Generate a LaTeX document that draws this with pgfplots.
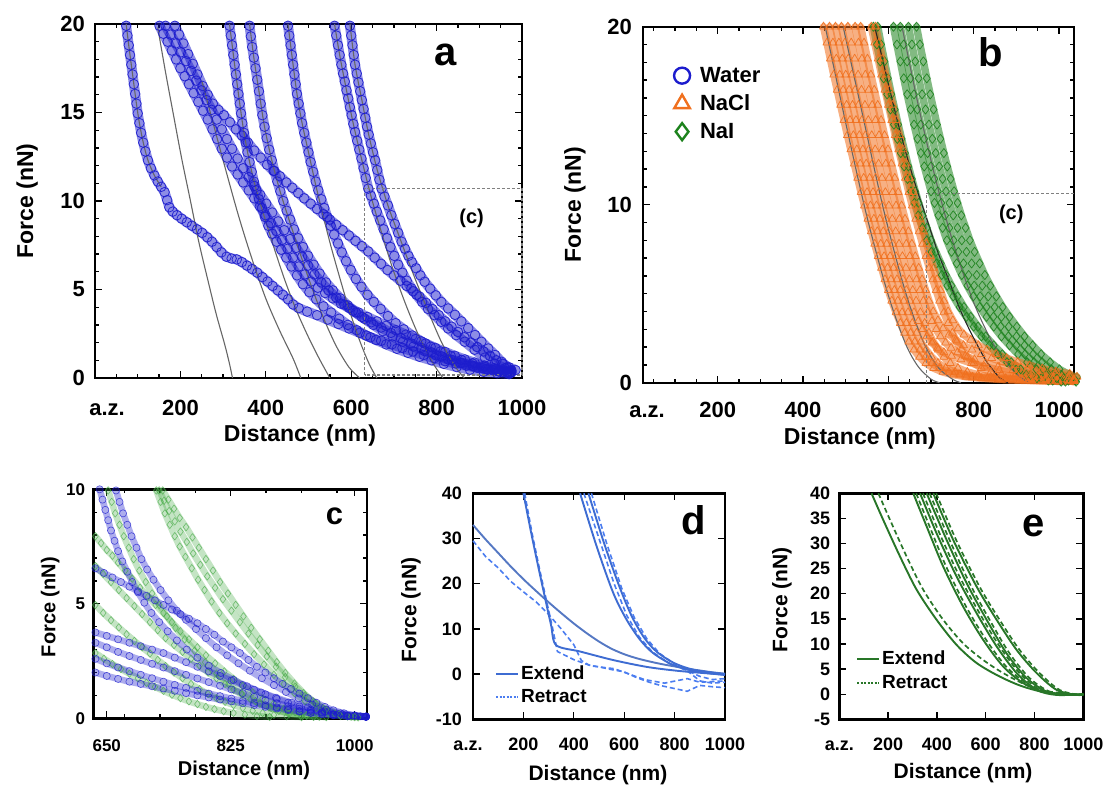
\documentclass[border=0pt]{standalone}
\usepackage{fontspec}
\setmainfont{Liberation Sans}
\usepackage{pgfplots}
\pgfplotsset{compat=1.18}
\definecolor{wblue}{RGB}{28,28,205}
\definecolor{naclc}{RGB}{240,112,30}
\definecolor{naic}{RGB}{28,130,28}
\definecolor{cgreen}{RGB}{70,170,70}
\definecolor{dsol}{RGB}{62,108,210}
\definecolor{dsteel}{RGB}{85,120,195}
\definecolor{dret}{RGB}{75,125,240}
\definecolor{egr}{RGB}{40,118,40}
\newcommand\fA{\fontsize{22bp}{26bp}\selectfont\bfseries}
\newcommand\fAl{\fontsize{23bp}{27bp}\selectfont\bfseries}
\newcommand\fC{\fontsize{17bp}{20bp}\selectfont\bfseries}
\newcommand\fCl{\fontsize{20bp}{24bp}\selectfont\bfseries}
\newcommand\fD{\fontsize{18bp}{21bp}\selectfont\bfseries}
\newcommand\fDl{\fontsize{21bp}{25bp}\selectfont\bfseries}
\newcommand\fLg{\fontsize{19bp}{22bp}\selectfont\bfseries}
\newcommand\fP{\fontsize{20bp}{24bp}\selectfont\bfseries}
\newcommand\fL{\fontsize{40bp}{44bp}\selectfont\bfseries}
\newcommand\fLc{\fontsize{31bp}{34bp}\selectfont\bfseries}
\pgfplotsset{
 panel/.style={scale only axis, clip=false, axis line style={line width=2.4bp},
   tick style={line width=1.3bp, black}, major tick length=7bp, minor tick length=4bp, tick align=inside},
 wband/.style={forget plot, draw=wblue, line width=10bp, draw opacity=0.5, line join=round, line cap=round,
   mark=o, mark size=4.8bp, mark options={draw=wblue, line width=0.8bp, draw opacity=0.9, fill=none, solid}},
 oband/.style={forget plot, draw=naclc, line width=7.5bp, draw opacity=0.55, line join=round, line cap=round,
   mark=triangle, mark size=4.6bp, mark options={draw=naclc, line width=0.75bp, draw opacity=0.9, fill=none, solid}},
 gband/.style={forget plot, draw=naic, line width=7.5bp, draw opacity=0.55, line join=round, line cap=round,
   mark=diamond, mark size=4.6bp, mark options={draw=naic, line width=0.75bp, draw opacity=0.9, fill=none, solid}},
 cwband/.style={forget plot, draw=wblue, line width=6.5bp, draw opacity=0.36, line join=round, line cap=round,
   mark=o, mark size=3.6bp, mark options={draw=wblue, line width=0.6bp, draw opacity=0.75, fill=none, solid}},
 cgband/.style={forget plot, draw=cgreen, line width=6.5bp, draw opacity=0.32, line join=round, line cap=round,
   mark=diamond, mark size=3.8bp, mark options={draw=cgreen, line width=0.6bp, draw opacity=0.7, fill=none, solid}},
 fitl/.style={forget plot, draw=black!60, line width=1.1bp, no marks, smooth},
 dsolid/.style={forget plot, draw=dsol, line width=1.9bp, no marks, smooth},
 ddash/.style={forget plot, draw=dret, line width=1.6bp, no marks, dash pattern=on 5bp off 3bp},
 esolid/.style={forget plot, draw=egr, line width=1.9bp, no marks, smooth},
 edash/.style={forget plot, draw=egr, line width=1.7bp, no marks, smooth, dash pattern=on 5bp off 3bp},
}
\begin{document}
\begin{tikzpicture}
\path[use as bounding box] (0bp,0bp) rectangle (1116bp,-787bp);
%================ a =================
\begin{axis}[panel, at={(95bp,-378bp)}, anchor=south west, width=427bp, height=354bp,
 xmin=0, xmax=1000, ymin=0, ymax=20,
 xtick={0,200,400,600,800,1000}, xticklabels={\hspace*{24bp}a.z.,200,400,600,800,1000},
 minor x tick num=3, ytick={0,5,10,15,20}, yticklabels={0,5,10,15,20}, minor y tick num=4,
 xticklabel style={font=\fA, anchor=base, yshift=-37bp, inner sep=0pt},
 yticklabel style={font=\fA, anchor=east, xshift=-10bp, inner sep=0pt},
 xlabel={Distance (nm)}, ylabel={Force (nN)},
 xlabel style={font=\fAl, at={(axis description cs:0.48,-0.163)}, anchor=center},
 ylabel style={font=\fAl, at={(axis description cs:-0.159,0.5)}, anchor=center}]
\addplot[wband] coordinates {(73,19.9) (76,19.35) (79,18.8) (82,18.25) (85,17.7) (88,17.15) (91,16.6) (94,16.05) (97,15.5) (100,14.95) (104,14.4) (108,13.85) (113,13.3) (118,12.8) (124,12.3) (131,11.85) (139,11.45) (147,11.1) (155,10.8) (163,10.5) (169,10.05) (174,9.65) (182,9.4) (192,9.2) (203,9.0) (215,8.8) (227,8.6) (239,8.4) (251,8.2) (263,7.95) (274,7.7) (285,7.4) (296,7.1) (308,6.85) (320,6.75) (332,6.7) (344,6.55) (356,6.35) (368,6.15) (380,5.95) (392,5.7) (404,5.45) (416,5.2) (428,4.95) (440,4.7) (452,4.45) (464,4.15) (477,3.95) (497,3.75) (520,3.55) (545,3.3) (570,3.05) (595,2.8) (620,2.55) (645,2.3) (670,2.1) (695,1.9) (720,1.7) (745,1.5) (770,1.3) (795,1.12) (820,0.95) (845,0.82) (870,0.7) (895,0.58) (920,0.47) (945,0.38) (965,0.32)};
\addplot[wband] coordinates {(151,19.9) (160,19.45) (170,19.0) (180,18.5) (190,18.0) (200,17.5) (210,17.05) (220,16.6) (231,16.1) (242,15.6) (253,15.1) (264,14.6) (275,14.05) (286,13.5) (297,12.95) (309,12.45) (321,11.95) (334,11.5) (347,11.05) (360,10.6) (373,10.15) (386,9.7) (399,9.2) (412,8.75) (425,8.3) (438,7.8) (451,7.3) (464,6.8) (477,6.3) (491,5.85) (506,5.45) (522,5.1) (539,4.8) (557,4.5) (576,4.2) (596,3.95) (617,3.7) (638,3.45) (660,3.2) (682,2.95) (705,2.7) (728,2.45) (751,2.2) (774,1.95) (797,1.7) (820,1.47) (843,1.25) (866,1.05) (889,0.87) (912,0.7) (935,0.55) (958,0.42) (975,0.35)};
\addplot[wband] coordinates {(165,19.9) (177,19.4) (189,18.9) (201,18.4) (213,17.9) (225,17.35) (237,16.8) (249,16.25) (261,15.7) (273,15.15) (285,14.6) (297,14.05) (309,13.5) (321,12.95) (334,12.4) (347,11.85) (360,11.35) (373,10.85) (387,10.35) (401,9.85) (415,9.35) (429,8.85) (443,8.35) (457,7.85) (471,7.35) (485,6.85) (499,6.35) (514,5.85) (530,5.4) (547,4.95) (565,4.55) (584,4.15) (604,3.8) (625,3.45) (647,3.15) (670,2.85) (693,2.55) (716,2.25) (740,1.95) (764,1.7) (788,1.45) (812,1.22) (836,1.02) (860,0.85) (884,0.7) (908,0.56) (932,0.45) (956,0.36) (975,0.3)};
\addplot[wband] coordinates {(187,19.9) (197,19.4) (207,18.9) (218,18.3) (229,17.75) (240,17.15) (252,16.5) (264,16.0) (276,15.5) (289,15.15) (302,14.85) (316,14.45) (330,14.05) (344,13.7) (358,13.3) (373,12.85) (388,12.45) (403,12.05) (418,11.7) (433,11.4) (448,11.05) (462,10.75) (476,10.45) (490,10.15) (505,9.85) (520,9.55) (535,9.25) (550,8.95) (565,8.65) (580,8.35) (595,8.05) (610,7.75) (625,7.45) (640,7.15) (655,6.8) (670,6.45) (685,6.1) (700,5.8) (715,5.5) (730,5.2) (745,4.9) (760,4.6) (775,4.25) (790,3.9) (805,3.55) (820,3.2) (835,2.9) (850,2.6) (865,2.3) (880,2.0) (895,1.75) (910,1.5) (925,1.25) (940,1.0) (955,0.8) (970,0.6) (985,0.45)};
\addplot[wband] coordinates {(315,19.9) (318,19.35) (321,18.8) (324,18.25) (327,17.7) (330,17.15) (333,16.6) (336,16.05) (339,15.5) (342,14.95) (345,14.4) (349,13.85) (353,13.3) (357,12.75) (362,12.2) (367,11.65) (372,11.1) (378,10.6) (384,10.1) (391,9.6) (398,9.1) (406,8.6) (415,8.15) (425,7.7) (436,7.25) (448,6.8) (460,6.3) (473,5.8) (487,5.3) (502,4.85) (518,4.45) (535,4.05) (553,3.7) (572,3.35) (592,3.0) (613,2.7) (635,2.4) (658,2.15) (682,1.9) (707,1.65) (733,1.42) (760,1.2) (788,1.0) (817,0.8) (847,0.62) (878,0.47) (910,0.35) (942,0.27) (970,0.22)};
\addplot[wband] coordinates {(362,19.9) (365,19.3) (368,18.7) (372,18.1) (376,17.5) (380,16.85) (384,16.2) (388,15.5) (392,14.85) (397,14.2) (402,13.55) (408,12.9) (414,12.3) (420,11.7) (427,11.1) (434,10.55) (441,10.0) (449,9.45) (457,8.95) (466,8.4) (476,7.9) (487,7.4) (499,6.9) (512,6.4) (526,5.9) (541,5.4) (557,4.95) (574,4.5) (592,4.1) (611,3.7) (631,3.35) (652,3.0) (674,2.65) (697,2.35) (721,2.05) (746,1.78) (772,1.52) (799,1.28) (827,1.05) (856,0.85) (886,0.66) (916,0.5) (946,0.37) (972,0.28)};
\addplot[wband] coordinates {(452,19.9) (455,19.35) (458,18.8) (461,18.25) (464,17.7) (467,17.15) (470,16.6) (473,16.05) (477,15.5) (481,14.95) (485,14.4) (490,13.85) (495,13.3) (500,12.75) (505,12.2) (511,11.65) (517,11.1) (523,10.6) (530,10.1) (537,9.6) (544,9.1) (552,8.6) (560,8.1) (569,7.6) (578,7.1) (588,6.6) (599,6.1) (611,5.6) (624,5.15) (638,4.7) (653,4.3) (669,3.9) (686,3.5) (704,3.1) (723,2.75) (743,2.4) (764,2.07) (786,1.77) (809,1.5) (833,1.25) (858,1.02) (884,0.82) (911,0.64) (938,0.48) (965,0.35)};
\addplot[wband] coordinates {(561,19.9) (565,19.35) (569,18.8) (573,18.25) (577,17.7) (581,17.2) (585,16.75) (589,16.25) (593,15.8) (597,15.3) (601,14.85) (605,14.35) (609,13.9) (614,13.4) (619,12.9) (624,12.4) (629,11.85) (634,11.3) (640,10.7) (646,10.3) (653,9.85) (660,9.4) (668,8.9) (676,8.4) (684,7.9) (692,7.4) (701,6.9) (710,6.4) (720,5.95) (730,5.5) (741,5.07) (753,4.7) (766,4.3) (780,3.9) (795,3.55) (811,3.17) (827,2.8) (846,2.42) (866,2.05) (889,1.6) (913,1.15) (936,0.8) (960,0.55) (975,0.45)};
\addplot[wband] coordinates {(597,19.9) (600,19.35) (603,18.8) (606,18.25) (609,17.7) (613,17.2) (617,16.7) (621,16.2) (625,15.7) (629,15.2) (633,14.7) (637,14.2) (641,13.75) (646,13.25) (651,12.75) (656,12.3) (661,11.75) (666,11.2) (671,10.7) (678,10.25) (686,9.75) (694,9.2) (702,8.7) (710,8.2) (718,7.7) (726,7.3) (734,6.9) (742,6.55) (752,6.2) (762,5.8) (772,5.44) (785,5.05) (798,4.67) (811,4.3) (827,3.93) (843,3.57) (858,3.2) (874,2.82) (890,2.43) (905,2.05) (921,1.67) (937,1.3) (952,0.92) (965,0.6) (975,0.4)};
\addplot[fitl] coordinates {(73,20) (79,18.8) (85,17.7) (91,16.6) (97,15.5) (104,14.4) (113,13.3) (124,12.3) (139,11.45) (155,10.8)};
\addplot[fitl] coordinates {(147,19.8) (165,17.3) (183.5,14.9) (203,12.4) (223.6,10.0) (243,7.7) (263.6,5.6) (284,3.6) (303.7,1.9) (315,0.8) (322,0)};
\addplot[fitl] coordinates {(250,16.8) (270,15.0) (300,12.3) (335.7,9.2) (368,6.7) (399.8,4.5) (432,2.7) (463.9,1.1) (482,0)};
\addplot[fitl] coordinates {(315,20) (327,17.7) (339,15.5) (349,13.85) (362,12.2) (378,10.6) (398,9.0) (420,7.3) (445,5.5) (472,3.8) (500,2.3) (525,1.1) (550,0)};
\addplot[fitl] coordinates {(362,20) (372,18.1) (384,16.2) (397,14.2) (414,12.3) (434,10.5) (455,8.9) (478,7.2) (505,5.3) (535,3.4) (565,1.8) (595,0.6) (620,0)};
\addplot[fitl] coordinates {(452,20) (461,18.25) (473,16.05) (485,14.4) (500,12.75) (516,11.0) (534,9.2) (553,7.4) (574,5.6) (596,3.8) (620,2.1) (642,0.8) (660,0)};
\addplot[fitl] coordinates {(561,20) (573,18.25) (589,16.25) (605,14.35) (624,12.4) (646,10.3) (670,8.3) (697,6.2) (727,4.2) (758,2.4) (790,0.9) (815,0)};
\addplot[fitl] coordinates {(597,20) (609,17.7) (625,15.7) (641,13.75) (661,11.75) (686,9.75) (714,7.9) (745,5.9) (778,3.9) (812,2.0) (845,0.6) (865,0)};
\draw[densely dashed, black!50, line width=1.2bp] (axis cs:632,0.17) rectangle (axis cs:1000,10.72);
\node[font=\fP] at (axis cs:882,9.04) {(c)};
\node[font=\fL] at (axis cs:822,18.25) {a};
\end{axis}
%================ b =================
\begin{axis}[panel, at={(643bp,-382.7bp)}, anchor=south west, width=431bp, height=356bp,
 xmin=25, xmax=1035, ymin=0, ymax=20,
 xtick={25,200,400,600,800,1000}, xticklabels={\hspace*{8bp}a.z.,200,400,600,800,1000},
 minor xtick={50,100,...,1000}, ytick={0,10,20}, yticklabels={0,10,20}, minor y tick num=9,
 xticklabel style={font=\fA, anchor=base, yshift=-35bp, inner sep=0pt},
 yticklabel style={font=\fA, anchor=east, xshift=-11bp, inner sep=0pt},
 xlabel={Distance (nm)}, ylabel={Force (nN)},
 xlabel style={font=\fAl, at={(axis description cs:0.503,-0.158)}, anchor=center},
 ylabel style={font=\fAl, at={(axis description cs:-0.158,0.5)}, anchor=center},
 legend image code/.code={\draw[#1] plot coordinates {(10bp,0bp)}; \path[draw=none,fill=none] (0bp,0bp) -- (26bp,0bp);},
 legend style={at={(axis description cs:0.067,0.892)}, anchor=north west, draw=none, fill=none, font=\fA, row sep=7bp, inner sep=0pt},
 legend cell align=left]
\addlegendimage{mark=o, draw=wblue, mark size=8bp, line width=2.4bp}
\addlegendentry{Water}
\addlegendimage{mark=triangle, draw=naclc, mark size=9bp, line width=2.4bp}
\addlegendentry{NaCl}
\addlegendimage{mark=diamond, draw=naic, mark size=8.5bp, line width=2.4bp}
\addlegendentry{NaI}
\addplot[gband] coordinates {(565,20) (573,19.0) (581,18.05) (589,17.1) (597,16.2) (605,15.35) (613,14.5) (621,13.7) (629,12.9) (637,12.15) (645,11.45) (653,10.75) (661,10.1) (670,9.4) (680,8.7) (690,8.0) (701,7.35) (713,6.7) (725,6.05) (738,5.45) (752,4.85) (767,4.25) (783,3.7) (800,3.15) (818,2.6) (837,2.1) (857,1.6) (878,1.15) (900,0.75) (923,0.45) (948,0.25) (975,0.12) (1005,0.06)};
\addplot[gband] coordinates {(575,20) (583,19.0) (591,18.05) (599,17.1) (607,16.2) (615,15.35) (623,14.5) (631,13.7) (639,12.9) (647,12.15) (655,11.45) (663,10.75) (671,10.1) (680,9.4) (690,8.7) (700,8.0) (711,7.35) (723,6.7) (735,6.05) (748,5.45) (762,4.85) (777,4.25) (793,3.7) (810,3.15) (828,2.6) (847,2.1) (867,1.6) (888,1.15) (910,0.75) (933,0.45) (958,0.25) (985,0.12) (1015,0.06)};
\addplot[gband] coordinates {(612,20) (620,19.0) (628,18.05) (636,17.1) (644,16.2) (652,15.35) (660,14.5) (668,13.7) (676,12.9) (684,12.15) (692,11.45) (700,10.75) (708,10.1) (717,9.4) (727,8.7) (737,8.0) (748,7.35) (760,6.7) (772,6.05) (785,5.45) (799,4.85) (814,4.25) (830,3.7) (847,3.15) (865,2.6) (884,2.1) (904,1.6) (925,1.15) (947,0.75) (970,0.45) (995,0.25) (1022,0.12) (1040,0.06)};
\addplot[gband] coordinates {(628,20) (636,19.0) (644,18.05) (652,17.1) (660,16.2) (668,15.35) (676,14.5) (684,13.7) (692,12.9) (700,12.15) (708,11.45) (716,10.75) (724,10.1) (733,9.4) (743,8.7) (753,8.0) (764,7.35) (776,6.7) (788,6.05) (801,5.45) (815,4.85) (830,4.25) (846,3.7) (863,3.15) (881,2.6) (900,2.1) (920,1.6) (941,1.15) (963,0.75) (986,0.45) (1011,0.25) (1038,0.12)};
\addplot[gband] coordinates {(647,20) (655,19.0) (663,18.05) (671,17.1) (679,16.2) (687,15.35) (695,14.5) (703,13.7) (711,12.9) (719,12.15) (727,11.45) (735,10.75) (743,10.1) (752,9.4) (762,8.7) (772,8.0) (783,7.35) (795,6.7) (807,6.05) (820,5.45) (834,4.85) (849,4.25) (865,3.7) (882,3.15) (900,2.6) (919,2.1) (939,1.6) (960,1.15) (982,0.75) (1005,0.45) (1030,0.25)};
\addplot[gband] coordinates {(666,20) (674,19.0) (682,18.05) (690,17.1) (698,16.2) (706,15.35) (714,14.5) (722,13.7) (730,12.9) (738,12.15) (746,11.45) (754,10.75) (762,10.1) (771,9.4) (781,8.7) (791,8.0) (802,7.35) (814,6.7) (826,6.05) (839,5.45) (853,4.85) (868,4.25) (884,3.7) (901,3.15) (919,2.6) (938,2.1) (958,1.6) (979,1.15) (1001,0.75) (1024,0.45) (1042,0.3)};
\addplot[oband] coordinates {(448,20) (456,19.1) (464,18.2) (472,17.3) (480,16.45) (488,15.6) (496,14.75) (504,13.9) (512,13.1) (520,12.3) (528,11.5) (536,10.7) (544,9.95) (552,9.2) (560,8.5) (568,7.8) (576,7.1) (584,6.45) (592,5.8) (600,5.2) (608,4.6) (618,3.95) (628,3.35) (638,2.8) (648,2.3) (660,1.85) (673,1.45) (688,1.1) (706,0.82) (728,0.6) (753,0.45) (783,0.33) (818,0.25) (858,0.19) (908,0.14) (968,0.1) (1035,0.08)};
\addplot[oband] coordinates {(462,20) (470,19.1) (478,18.2) (486,17.3) (494,16.45) (502,15.6) (510,14.75) (518,13.9) (526,13.1) (534,12.3) (542,11.5) (550,10.7) (558,9.95) (566,9.2) (574,8.5) (582,7.8) (590,7.1) (598,6.45) (606,5.8) (614,5.2) (622,4.6) (632,3.95) (642,3.35) (652,2.8) (662,2.3) (674,1.85) (687,1.45) (702,1.1) (720,0.82) (742,0.6) (767,0.45) (797,0.33) (832,0.25) (872,0.19) (922,0.14) (982,0.1) (1035,0.08)};
\addplot[oband] coordinates {(476,20) (484,19.1) (492,18.2) (500,17.3) (508,16.45) (516,15.6) (524,14.75) (532,13.9) (540,13.1) (548,12.3) (556,11.5) (564,10.7) (572,9.95) (580,9.2) (588,8.5) (596,7.8) (604,7.1) (612,6.45) (620,5.8) (628,5.2) (636,4.6) (646,3.95) (656,3.35) (666,2.8) (676,2.3) (688,1.85) (701,1.45) (716,1.1) (734,0.82) (756,0.6) (781,0.45) (811,0.33) (846,0.25) (886,0.19) (936,0.14) (996,0.1) (1035,0.08)};
\addplot[oband] coordinates {(490,20) (498,19.1) (506,18.2) (514,17.3) (522,16.45) (530,15.6) (538,14.75) (546,13.9) (554,13.1) (562,12.3) (570,11.5) (578,10.7) (586,9.95) (594,9.2) (602,8.5) (610,7.8) (618,7.1) (626,6.45) (634,5.8) (642,5.2) (650,4.6) (660,3.95) (670,3.45) (680,3.0) (690,2.6) (702,2.25) (715,1.95) (730,1.7) (748,1.5) (770,1.3) (795,1.1) (825,0.9) (860,0.7) (900,0.5) (950,0.32) (1010,0.18) (1035,0.14)};
\addplot[oband] coordinates {(505,20) (513,19.1) (521,18.2) (529,17.3) (537,16.45) (545,15.6) (553,14.75) (561,13.9) (569,13.1) (577,12.3) (585,11.5) (593,10.7) (601,9.95) (609,9.2) (617,8.5) (625,7.8) (633,7.1) (641,6.45) (649,5.8) (657,5.2) (665,4.6) (675,3.95) (685,3.35) (695,2.8) (705,2.3) (717,1.85) (730,1.45) (745,1.1) (763,0.82) (785,0.6) (810,0.45) (840,0.33) (875,0.25) (915,0.19) (965,0.14) (1025,0.1)};
\addplot[oband] coordinates {(522,20) (530,19.1) (538,18.2) (546,17.3) (554,16.45) (562,15.6) (570,14.75) (578,13.9) (586,13.1) (594,12.3) (602,11.5) (610,10.7) (618,9.95) (626,9.2) (634,8.5) (642,7.8) (650,7.1) (658,6.45) (666,5.8) (674,5.2) (682,4.6) (692,3.95) (702,3.45) (712,3.0) (722,2.6) (734,2.25) (747,1.95) (762,1.7) (780,1.5) (802,1.3) (827,1.1) (857,0.9) (892,0.7) (932,0.5) (982,0.32) (1035,0.2)};
\addplot[oband] coordinates {(535,20) (543,19.1) (551,18.2) (559,17.3) (567,16.45) (575,15.6) (583,14.75) (591,13.9) (599,13.1) (607,12.3) (615,11.5) (623,10.7) (631,9.95) (639,9.2) (647,8.5) (655,7.8) (663,7.1) (671,6.45) (679,5.8) (687,5.2) (695,4.6) (705,4.0) (716,3.5) (728,3.05) (742,2.7) (758,2.4) (776,2.1) (796,1.85) (818,1.6) (842,1.38) (868,1.17) (896,0.97) (926,0.79) (958,0.63) (992,0.49) (1025,0.38) (1042,0.33)};
\addplot[oband] coordinates {(560,20) (568,19.1) (576,18.2) (584,17.3) (592,16.45) (600,15.6) (608,14.75) (616,13.9) (624,13.1) (632,12.3) (640,11.5) (648,10.7) (656,9.95) (664,9.2) (672,8.5) (680,7.8) (688,7.1) (696,6.45) (704,5.8) (712,5.2) (720,4.6) (730,3.95) (740,3.35) (750,2.8) (760,2.3) (772,1.85) (785,1.45) (800,1.1) (818,0.82) (840,0.6) (865,0.45) (895,0.33) (930,0.25) (970,0.19) (1020,0.14) (1035,0.12)};
\addplot[oband] coordinates {(570,20) (578,19.1) (586,18.2) (594,17.3) (602,16.45) (610,15.6) (618,14.75) (626,13.9) (634,13.1) (642,12.3) (650,11.5) (658,10.7) (666,9.95) (674,9.2) (682,8.5) (690,7.8) (698,7.1) (706,6.45) (714,5.8) (722,5.2) (730,4.6) (740,4.0) (751,3.5) (763,3.05) (777,2.7) (793,2.4) (811,2.1) (831,1.85) (853,1.6) (877,1.38) (903,1.17) (931,0.97) (961,0.79) (993,0.63) (1025,0.5)};
\addplot[fitl] coordinates {(452,20) (500,14.6) (550,9.3) (600,4.9) (640,2.2) (670,0.9) (700,0.2) (720,0)};
\addplot[fitl] coordinates {(494,20) (540,15.0) (590,9.6) (640,5.1) (680,2.4) (715,0.9) (750,0.2) (770,0)};
\addplot[fitl, draw=black!85] coordinates {(568,20) (590,17.8) (615,15.3) (640,13.0) (665,11.0) (690,9.2) (715,7.4) (741,5.8) (770,4.0) (800,2.5) (830,1.2) (860,0.3) (880,0)};
\addplot[fitl] coordinates {(632,20) (670,15.6) (710,11.5) (750,8.0) (800,4.5) (850,2.0) (900,0.5) (930,0)};
\draw[densely dashed, black!50, line width=1.2bp] (axis cs:690,0) -- (axis cs:690,10.64) -- (axis cs:1035,10.64);
\node[font=\fP] at (axis cs:888,9.48) {(c)};
\node[font=\fL] at (axis cs:840,18.55) {b};
\end{axis}
%================ c =================
\begin{axis}[panel, at={(93.3bp,-718.3bp)}, anchor=south west, width=273.4bp, height=229bp,
 xmin=631, xmax=1017, ymin=0, ymax=10,
 xtick={650,825,1000}, xticklabels={650,825,1000}, minor xtick={675,725,775,875,925,975},
 ytick={0,5,10}, yticklabels={0,5,10}, minor y tick num=4,
 xticklabel style={font=\fC, anchor=base, yshift=-33bp, inner sep=0pt},
 yticklabel style={font=\fC, anchor=east, xshift=-8bp, inner sep=0pt},
 xlabel={Distance (nm)}, ylabel={Force (nN)},
 xlabel style={font=\fCl, at={(axis description cs:0.551,-0.226)}, anchor=center},
 ylabel style={font=\fCl, at={(axis description cs:-0.158,0.486)}, anchor=center}]
\addplot[cgband] coordinates {(720,9.95) (726,9.45) (732,8.95) (739,8.45) (746,7.95) (753,7.5) (761,7.05) (770,6.55) (779,6.05) (788,5.6) (798,5.1) (809,4.6) (820,4.15) (832,3.7) (845,3.25) (858,2.8) (872,2.35) (886,1.9) (900,1.5) (915,1.1) (930,0.75) (946,0.45) (962,0.23) (980,0.1) (1000,0.05)};
\addplot[cgband] coordinates {(729,9.95) (737,9.55) (745,9.15) (753,8.75) (762,8.35) (771,7.9) (780,7.45) (790,6.95) (800,6.45) (810,5.95) (821,5.45) (832,4.95) (843,4.45) (854,3.95) (866,3.45) (878,2.95) (890,2.45) (902,1.98) (915,1.52) (928,1.1) (942,0.72) (956,0.42) (972,0.2) (990,0.08) (1005,0.04)};
\addplot[cgband] coordinates {(724,9.95) (731,9.5) (738,9.05) (746,8.6) (754,8.15) (763,7.7) (772,7.2) (782,6.7) (792,6.2) (803,5.7) (814,5.2) (826,4.7) (838,4.2) (850,3.7) (863,3.2) (876,2.7) (889,2.25) (902,1.8) (916,1.38) (930,1.0) (945,0.65) (960,0.38) (978,0.18) (995,0.07)};
\addplot[cgband] coordinates {(652,9.95) (657,9.45) (662,8.95) (668,8.45) (674,7.95) (681,7.45) (688,6.95) (696,6.45) (705,5.95) (714,5.45) (724,4.95) (735,4.45) (747,3.95) (760,3.45) (774,2.95) (789,2.45) (805,1.95) (822,1.5) (840,1.1) (860,0.75) (882,0.45) (906,0.22) (932,0.1) (960,0.05)};
\addplot[cgband] coordinates {(634,7.95) (642,7.65) (650,7.35) (658,7.1) (666,6.8) (676,6.45) (686,6.1) (697,5.7) (708,5.3) (719,4.95) (730,4.6) (742,4.2) (754,3.8) (766,3.45) (778,3.1) (790,2.75) (803,2.4) (816,2.05) (829,1.72) (842,1.42) (856,1.13) (870,0.86) (885,0.62) (900,0.42) (916,0.26) (932,0.14) (950,0.07)};
\addplot[cgband] coordinates {(634,6.65) (645,6.3) (656,5.95) (667,5.6) (678,5.25) (689,4.9) (700,4.55) (711,4.2) (722,3.85) (733,3.5) (745,3.2) (757,2.9) (769,2.6) (781,2.3) (793,2.0) (805,1.75) (817,1.5) (829,1.25) (841,1.03) (853,0.83) (866,0.64) (879,0.47) (893,0.32) (908,0.2) (924,0.12) (942,0.06)};
\addplot[cgband] coordinates {(634,4.95) (645,4.6) (656,4.28) (667,3.97) (678,3.67) (689,3.38) (700,3.1) (711,2.83) (722,2.55) (733,2.28) (745,2.0) (757,1.75) (769,1.5) (781,1.27) (793,1.06) (805,0.88) (817,0.72) (829,0.58) (842,0.45) (856,0.33) (870,0.23) (886,0.15) (904,0.09) (925,0.05)};
\addplot[cgband] coordinates {(634,2.85) (646,2.6) (658,2.37) (670,2.15) (682,1.95) (694,1.75) (706,1.55) (718,1.37) (730,1.2) (742,1.03) (754,0.88) (766,0.74) (778,0.62) (790,0.5) (802,0.4) (815,0.31) (829,0.23) (845,0.16) (862,0.1) (880,0.06)};
\addplot[cwband] coordinates {(640,10.0) (644,9.55) (648,9.1) (652,8.65) (656,8.2) (661,7.75) (666,7.3) (672,6.85) (679,6.4) (686,5.95) (694,5.5) (703,5.05) (713,4.6) (724,4.2) (736,3.8) (749,3.4) (763,3.0) (778,2.65) (794,2.3) (811,1.98) (829,1.68) (848,1.4) (868,1.13) (889,0.9) (911,0.68) (934,0.48) (958,0.3) (983,0.17) (1008,0.09) (1016,0.07)};
\addplot[cwband] coordinates {(663,9.95) (668,9.45) (673,8.95) (679,8.45) (685,7.95) (692,7.45) (699,6.95) (707,6.5) (716,6.05) (726,5.6) (737,5.15) (749,4.7) (762,4.3) (776,3.9) (790,3.5) (805,3.1) (820,2.75) (836,2.4) (852,2.08) (869,1.75) (886,1.45) (903,1.15) (921,0.87) (940,0.6) (960,0.38) (980,0.22) (1000,0.12) (1016,0.08)};
\addplot[cwband] coordinates {(634,6.55) (646,6.35) (658,6.15) (670,5.95) (682,5.75) (694,5.55) (706,5.35) (718,5.15) (730,4.95) (742,4.75) (754,4.55) (766,4.35) (778,4.15) (790,3.9) (802,3.65) (814,3.35) (826,3.1) (838,2.85) (850,2.55) (862,2.25) (874,2.0) (886,1.75) (898,1.5) (910,1.28) (922,1.08) (934,0.88) (946,0.68) (958,0.5) (970,0.35) (985,0.22) (1000,0.13) (1016,0.08)};
\addplot[cwband] coordinates {(634,3.75) (650,3.6) (666,3.45) (682,3.3) (698,3.15) (714,3.0) (730,2.85) (746,2.65) (762,2.45) (778,2.25) (794,2.05) (810,1.85) (826,1.65) (842,1.45) (858,1.25) (874,1.05) (890,0.85) (906,0.68) (922,0.52) (938,0.38) (954,0.27) (970,0.18) (990,0.12) (1016,0.07)};
\addplot[cwband] coordinates {(634,3.3) (650,3.1) (666,2.9) (682,2.72) (698,2.55) (714,2.38) (730,2.22) (746,2.06) (762,1.9) (778,1.74) (794,1.58) (810,1.42) (826,1.26) (842,1.1) (858,0.94) (874,0.8) (890,0.66) (906,0.53) (922,0.42) (938,0.32) (954,0.24) (970,0.17) (990,0.11) (1016,0.07)};
\addplot[cwband] coordinates {(634,2.6) (650,2.4) (666,2.22) (682,2.06) (698,1.9) (714,1.75) (730,1.6) (746,1.46) (762,1.33) (778,1.2) (794,1.08) (810,0.97) (826,0.86) (842,0.76) (858,0.66) (874,0.57) (890,0.48) (906,0.4) (922,0.32) (938,0.25) (954,0.19) (970,0.14) (990,0.1) (1016,0.07)};
\addplot[cwband] coordinates {(634,2.0) (650,1.85) (666,1.72) (682,1.6) (698,1.5) (714,1.4) (730,1.3) (746,1.2) (762,1.1) (778,1.0) (794,0.91) (810,0.82) (826,0.74) (842,0.66) (858,0.58) (874,0.5) (890,0.43) (906,0.36) (922,0.29) (938,0.23) (954,0.18) (970,0.13) (990,0.09) (1016,0.06)};
\node[font=\fLc] at (axis cs:971.6,8.8) {c};
\end{axis}
%================ d =================
\begin{axis}[panel, at={(473bp,-719.3bp)}, anchor=south west, width=252bp, height=226bp,
 xmin=0, xmax=1000, ymin=-10, ymax=40,
 xtick={0,200,400,600,800,1000}, xticklabels={\hspace*{-10bp}a.z.,200,400,600,800,1000},
 ytick={-10,0,10,20,30,40}, yticklabels={-10,0,10,20,30,40},
 xticklabel style={font=\fD, anchor=base, yshift=-31bp, inner sep=0pt},
 yticklabel style={font=\fD, anchor=east, xshift=-11bp, inner sep=0pt},
 xlabel={Distance (nm)}, ylabel={Force (nN)},
 xlabel style={font=\fDl, at={(axis description cs:0.496,-0.246)}, anchor=center},
 ylabel style={font=\fDl, at={(axis description cs:-0.246,0.484)}, anchor=center},
 legend image code/.code={\draw[#1] (0bp,0bp) -- (22bp,0bp);},
 legend style={at={(axis description cs:0.087,0.245)}, anchor=north west, draw=none, fill=none, font=\fLg, row sep=4bp, inner sep=0pt},
 legend cell align=left]
\addlegendimage{draw=dsol, line width=2bp}
\addlegendentry{Extend}
\addlegendimage{draw=dret, line width=2bp, dash pattern=on 2bp off 1.5bp}
\addlegendentry{Retract}
\addplot[ddash] coordinates {(0,29.5) (50,26) (100,23.5) (150,20.5) (200,18.2) (250,16.0) (300,13.2) (350,10.0) (400,6.5) (430,3.0) (460,2.0) (500,1.6) (550,1.0) (600,0.5) (650,-0.8) (700,-1.8) (750,-2.6) (800,-3.2) (850,-3.8) (900,-2.5) (950,-2.8) (1000,-3.0)};
\addplot[ddash] coordinates {(205,40) (235,31) (265,23) (295,15.4) (315,10.4) (335,5.0) (400,3.2) (470,1.8) (560,1.2) (620,0.0) (680,-1.2) (760,-2.0) (850,-1.0) (900,-1.8) (1000,-1.5)};
\addplot[ddash] coordinates {(440,40) (500,30) (560,20) (610,13) (660,8.2) (710,5.0) (780,2.3) (850,0.8) (900,-0.5) (950,-1.2) (1000,-1.0)};
\addplot[ddash] coordinates {(470,40) (530,29) (590,19) (640,12.5) (690,7.8) (740,4.6) (800,2.2) (860,0.3) (900,-1.5) (950,-2.0) (1000,-1.8)};
\addplot[dsolid, draw=dsteel] coordinates {(0,33) (50,29.8) (100,26.8) (150,23.8) (200,21.0) (250,18.4) (300,15.9) (350,13.5) (400,11.2) (450,9.1) (500,7.2) (550,5.6) (600,4.4) (650,3.5) (700,2.8) (750,2.2) (800,1.7) (850,1.2) (900,0.8) (950,0.4) (1000,0.1)};
\addplot[dsolid, smooth=false] coordinates {(200,40) (230,31.5) (260,23.5) (290,15.8) (310,10.8) (330,6.4) (425,5.0) (557,3.1) (689,1.6) (800,0.8) (900,0.3) (1000,-0.1)};
\addplot[dsolid] coordinates {(425,40) (491,28.2) (557,17.9) (610,12) (663,7.6) (716,4.6) (795,2.0) (888,0.55) (1000,-0.2)};
\addplot[dsolid] coordinates {(458,40) (520,29) (580,19.5) (630,12.8) (680,8.0) (730,4.9) (800,2.4) (880,0.9) (1000,0)};
\node[font=\fL] at (axis cs:877,34.1) {d};
\end{axis}
%================ e =================
\begin{axis}[panel, at={(839.3bp,-719.3bp)}, anchor=south west, width=244bp, height=226bp,
 xmin=0, xmax=1000, ymin=-5, ymax=40,
 xtick={0,200,400,600,800,1000}, xticklabels={a.z.,200,400,600,800,1000},
 ytick={-5,0,5,10,15,20,25,30,35,40}, yticklabels={-5,0,5,10,15,20,25,30,35,40},
 xticklabel style={font=\fD, anchor=base, yshift=-31bp, inner sep=0pt},
 yticklabel style={font=\fD, anchor=east, xshift=-9bp, inner sep=0pt},
 xlabel={Distance (nm)}, ylabel={Force (nN)},
 xlabel style={font=\fDl, at={(axis description cs:0.507,-0.238)}, anchor=center},
 ylabel style={font=\fDl, at={(axis description cs:-0.235,0.528)}, anchor=center},
 legend image code/.code={\draw[#1] (0bp,0bp) -- (22bp,0bp);},
 legend style={at={(axis description cs:0.068,0.311)}, anchor=north west, draw=none, fill=none, font=\fLg, row sep=5bp, inner sep=0pt},
 legend cell align=left]
\addlegendimage{draw=egr, line width=2bp}
\addlegendentry{Extend}
\addlegendimage{draw=egr, line width=2bp, dash pattern=on 2bp off 1.5bp}
\addlegendentry{Retract}
\addplot[edash] coordinates {(160,40) (208,34.7) (276,27.4) (344,20.8) (426,14.8) (508,10.1) (590,6.8) (672,4.2) (768,1.8) (863,0.5) (1000,-0.1)};
\addplot[edash] coordinates {(315,40) (370,33.4) (438,25.4) (520,17.4) (602,10.8) (684,5.5) (766,2.2) (848,0.5) (944,-0.15) (1000,0)};
\addplot[edash] coordinates {(343,40) (411,32) (493,23.4) (575,16.1) (657,9.5) (739,4.2) (821,0.85) (903,-0.15) (1000,0)};
\addplot[edash] coordinates {(370,40) (452,30.7) (534,22.1) (616,14.8) (698,8.1) (780,3.2) (862,0.5) (944,-0.15) (1000,0)};
\addplot[edash] coordinates {(397,40) (479,30.7) (575,21.4) (657,14.8) (739,8.8) (821,4.2) (903,0.85) (985,-0.15) (1000,0)};
\addplot[esolid] coordinates {(132,40) (180,34.7) (249,27.4) (317,20.8) (399,14.8) (481,9.8) (563,6.2) (658,3.5) (754,1.5) (863,0.2) (1000,-0.1)};
\addplot[esolid] coordinates {(303,40) (358,33.4) (426,25.4) (508,17.4) (590,10.8) (672,5.5) (754,2.2) (836,0.5) (932,-0.15) (1000,0)};
\addplot[esolid] coordinates {(331,40) (399,32) (481,23.4) (563,16.1) (645,9.5) (727,4.2) (809,0.85) (891,-0.15) (1000,0)};
\addplot[esolid] coordinates {(358,40) (440,30.7) (522,22.1) (604,14.8) (686,8.1) (768,3.2) (850,0.5) (932,-0.15) (1000,0)};
\addplot[esolid] coordinates {(385,40) (467,30.7) (563,21.4) (645,14.8) (727,8.8) (809,4.2) (891,0.85) (973,-0.15) (1000,0)};
\node[font=\fL] at (axis cs:798,33.5) {e};
\end{axis}
\end{tikzpicture}
\end{document}
